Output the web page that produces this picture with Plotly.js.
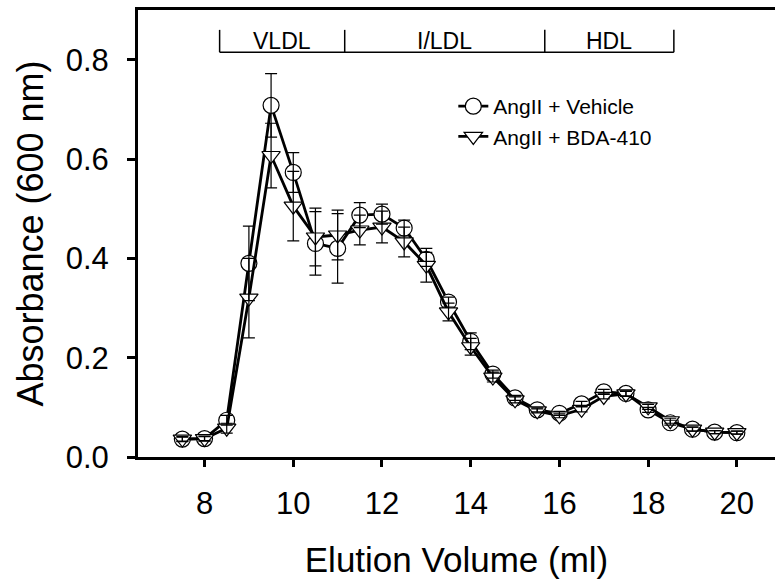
<!DOCTYPE html>
<html>
<head>
<meta charset="utf-8">
<script src="https://cdn.plot.ly/plotly-3.0.1.min.js"></script>
<style>html,body{margin:0;padding:0;background:#fff;overflow:hidden;}#chart{width:775px;height:587px;}</style>
</head>
<body>
<div id="chart"></div>
<script>
const elution = [7.5,8,8.5,9,9.5,10,10.5,11,11.5,12,12.5,13,13.5,14,14.5,15,15.5,16,16.5,17,17.5,18,18.5,19,19.5,20];
const vehicle = [0.036,0.037,0.074,0.39,0.708,0.573,0.43,0.42,0.487,0.489,0.461,0.398,0.312,0.233,0.167,0.119,0.095,0.088,0.107,0.131,0.128,0.095,0.069,0.056,0.05,0.049];
const vehicleErr = [0.005,0.005,0.01,0.075,0.064,0.04,0.064,0.07,0.025,0.02,0.016,0.014,0.01,0.017,0.008,0.005,0.004,0.004,0.005,0.005,0.005,0.005,0.005,0.004,0.003,0.003];
const bda = [0.036,0.037,0.058,0.32,0.607,0.505,0.443,0.447,0.457,0.463,0.433,0.386,0.292,0.222,0.161,0.115,0.093,0.083,0.096,0.122,0.127,0.101,0.073,0.056,0.05,0.049];
const bdaErr = [0.004,0.004,0.01,0.08,0.065,0.07,0.058,0.05,0.03,0.032,0.03,0.034,0.018,0.017,0.01,0.006,0.004,0.004,0.005,0.005,0.005,0.005,0.005,0.004,0.003,0.003];
const seriesNames = ['AngII + Vehicle', 'AngII + BDA-410'];
const fractionEdges = [8.34, 11.16, 15.67, 18.58];
const fractionLabels = ['VLDL', 'I/LDL', 'HDL'];

const FONT = 'Liberation Sans, Arial, Helvetica, sans-serif';

function mainTrace(y, name, symbol) {
  return {
    x: elution, y: y, name: name, type: 'scatter', mode: 'lines+markers',
    line: {color: '#000', width: 2.8},
    marker: {symbol: symbol, size: 16, color: '#fff', line: {color: '#000', width: 1.2}},
    cliponaxis: false
  };
}
function errTrace(y, err) {
  return {
    x: elution, y: y, type: 'scatter', mode: 'markers', showlegend: false, hoverinfo: 'skip',
    marker: {size: 1, color: 'rgba(0,0,0,0)'},
    error_y: {type: 'data', array: err, visible: true, color: '#000', thickness: 1.2, width: 6},
    cliponaxis: false
  };
}

const traces = [
  mainTrace(vehicle, seriesNames[0], 'circle'),
  mainTrace(bda, seriesNames[1], 'triangle-down'),
  errTrace(vehicle, vehicleErr),
  errTrace(bda, bdaErr)
];

const shapes = [];
shapes.push({type: 'line', xref: 'x', yref: 'y', x0: fractionEdges[0], x1: fractionEdges[fractionEdges.length-1], y0: 0.815, y1: 0.815, line: {color: '#000', width: 1.5}});
fractionEdges.forEach(e => shapes.push({type: 'line', xref: 'x', yref: 'y', x0: e, x1: e, y0: 0.815, y1: 0.86, line: {color: '#000', width: 1.5}}));
const annotations = fractionLabels.map((t, i) => ({
  xref: 'x', yref: 'y', x: (fractionEdges[i] + fractionEdges[i+1]) / 2, y: 0.838,
  text: t, showarrow: false, font: {family: 'Liberation Sans Narrow, Arial Narrow, ' + FONT, size: 23, color: '#000'},
  xanchor: 'center', yanchor: 'middle'
}));

const layout = {
  width: 775, height: 587,
  margin: {l: 138, r: 0, t: 10, b: 130},
  paper_bgcolor: '#fff', plot_bgcolor: '#fff',
  font: {family: FONT, color: '#000'},
  showlegend: true,
  legend: {x: 0.495, y: 0.83, xanchor: 'left', yanchor: 'top', bgcolor: 'rgba(0,0,0,0)', font: {family: FONT, size: 21, color: '#000'}, tracegroupgap: 0},
  xaxis: {
    range: [6.5, 20.86], tickmode: 'array', tickvals: [8,10,12,14,16,18,20],
    ticks: 'outside', ticklen: 7, tickwidth: 3, tickcolor: '#000',
    showline: true, linecolor: '#000', linewidth: 3, mirror: true,
    showgrid: false, zeroline: false,
    tickfont: {family: FONT, size: 31, color: '#000'}, ticklabelstandoff: 10,
    title: {text: 'Elution Volume (ml)', font: {family: FONT, size: 35, color: '#000'}, standoff: 28}
  },
  yaxis: {
    range: [0, 0.9], tickmode: 'array', tickvals: [0,0.2,0.4,0.6,0.8], ticktext: ['0.0','0.2','0.4','0.6','0.8'],
    ticks: 'outside', ticklen: 8, tickwidth: 3, tickcolor: '#000',
    showline: true, linecolor: '#000', linewidth: 3,
    showgrid: false, zeroline: false,
    tickfont: {family: FONT, size: 31, color: '#000'}, ticklabelstandoff: 12,
    title: {text: 'Absorbance (600 nm)', font: {family: FONT, size: 36, color: '#000'}, standoff: 12}
  },
  shapes: shapes,
  annotations: annotations
};

Plotly.newPlot('chart', traces, layout, {staticPlot: true, displayModeBar: false});
</script>
</body>
</html>
